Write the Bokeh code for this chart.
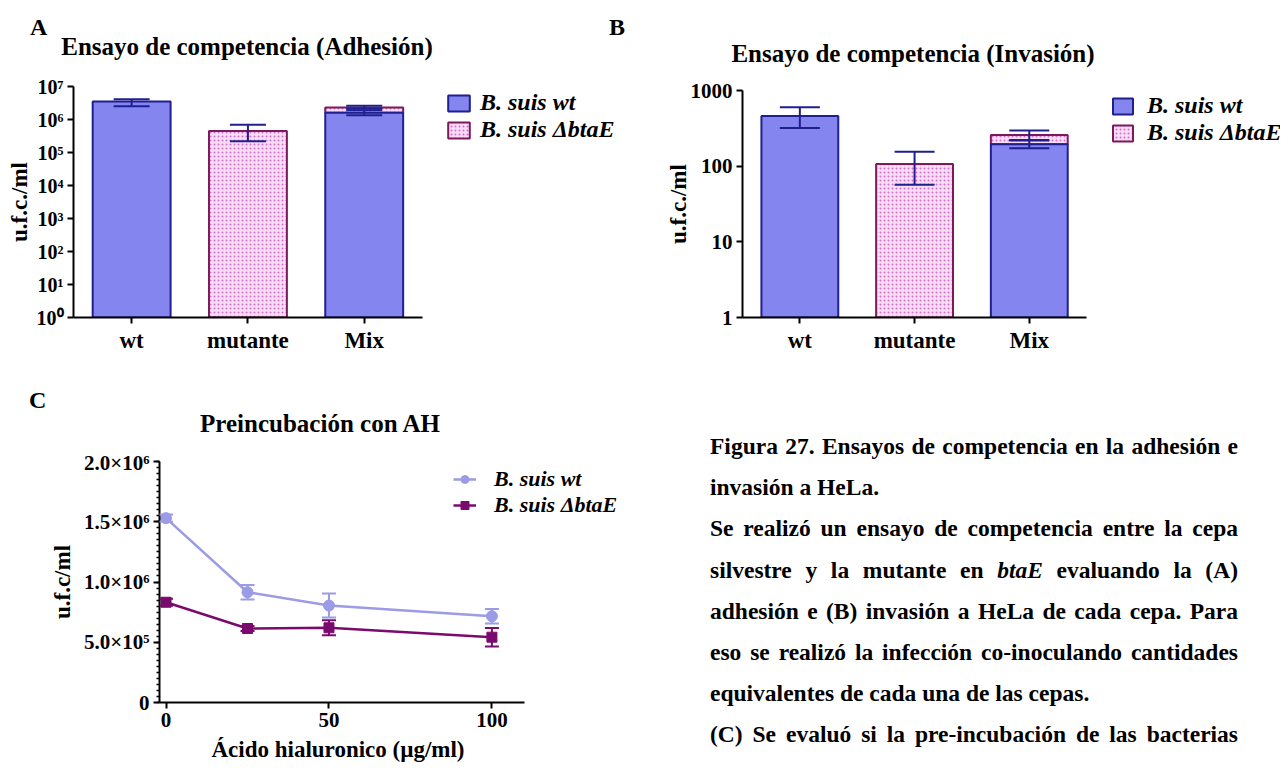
from bokeh.plotting import figure
from bokeh.models import (ColumnDataSource, Whisker, TeeHead, Legend, LegendItem,
                          FixedTicker, Range1d, Div)
from bokeh.layouts import row, column
from bokeh.embed import file_html
from bokeh.resources import INLINE

SERIF = "Liberation Serif"

# ---------------- data ----------------
strains = ["wt", "mutante", "Mix"]
series_labels = ["B. suis wt", "B. suis ΔbtaE"]

# Panel A: adhesion (u.f.c./ml)
adh_wt_cats = ["wt", "Mix"]
adh_wt_mean = [3.5e6, 1.6e6]
adh_wt_low = [2.5e6, 1.35e6]
adh_wt_high = [4.1e6, 1.9e6]
adh_mut_cats = ["mutante", "Mix"]
adh_mut_mean = [4.5e5, 0.7e6]
adh_mut_low = [2.2e5, 2.1e6]
adh_mut_high = [6.9e5, 2.6e6]
adh_ticks = [1, 10, 100, 1e3, 1e4, 1e5, 1e6, 1e7]
adh_tick_labels = ["10⁰", "10¹", "10²", "10³", "10⁴", "10⁵", "10⁶", "10⁷"]

# Panel B: invasion (u.f.c./ml)
inv_wt_cats = ["wt", "Mix"]
inv_wt_mean = [460, 195]
inv_wt_low = [320, 172]
inv_wt_high = [600, 218]
inv_mut_cats = ["mutante", "Mix"]
inv_mut_mean = [106, 63]
inv_mut_low = [57, 222]
inv_mut_high = [155, 296]
inv_ticks = [1, 10, 100, 1000]
inv_tick_labels = ["1", "10", "100", "1000"]

# Panel C: pre-incubation with hyaluronic acid
ah_conc = [0, 25, 50, 100]
ah_wt = [1.53e6, 0.915e6, 0.805e6, 0.716e6]
ah_wt_sem = [0.03e6, 0.06e6, 0.10e6, 0.06e6]
ah_mut = [0.832e6, 0.614e6, 0.620e6, 0.542e6]
ah_mut_sem = [0.03e6, 0.02e6, 0.062e6, 0.077e6]
ah_xticks = [0, 50, 100]
ah_yticks = [0, 5e5, 1e6, 1.5e6, 2e6]
ah_ytick_labels = ["0", "5.0×10⁵", "1.0×10⁶", "1.5×10⁶", "2.0×10⁶"]

titles = ["Ensayo de competencia (Adhesión)", "Ensayo de competencia (Invasión)",
          "Preincubación con AH"]
panel_letters = ["A", "B", "C"]
ah_xlabel = "Ácido hialuronico (µg/ml)"
caption_lines = [
    "Figura 27. Ensayos de competencia en la adhesión e",
    "invasión a HeLa.",
    "Se realizó un ensayo de competencia entre la cepa",
    "silvestre y la mutante en <i>btaE</i> evaluando la (A)",
    "adhesión e (B) invasión a HeLa de cada cepa. Para",
    "eso se realizó la infección co-inoculando cantidades",
    "equivalentes de cada una de las cepas.",
    "(C) Se evaluó si la pre-incubación de las bacterias",
]
caption_justified = [True, False, True, True, True, True, False, True]

# ---------------- style ----------------
BLUE_FILL = "#8585f0"
NAVY = "#1f1f8f"
PINK_FILL = "#f9dcf6"
PINK_HATCH = "#d070c8"
MAROON = "#7d1a5c"
WT_LINE = "#9b9be6"
MUT_LINE = "#7b0a6e"


def style_axes(p, tick_size):
    p.grid.visible = False
    p.outline_line_color = None
    for ax in p.axis:
        ax.axis_line_width = 2
        ax.axis_line_color = "black"
        ax.major_tick_line_width = 2
        ax.major_tick_line_color = "black"
        ax.major_tick_out = 6
        ax.major_tick_in = 0
        ax.minor_tick_line_color = None
        ax.major_label_text_font = SERIF
        ax.major_label_text_font_style = "bold"
        ax.major_label_text_color = "black"
        ax.major_label_text_font_size = tick_size
        ax.major_label_standoff = 4
        ax.axis_label_text_font = SERIF
        ax.axis_label_text_font_style = "bold"
        ax.axis_label_text_font_size = "23px"
        ax.axis_label_text_color = "black"


def header_div(width, height, letters, title, title_center, title_base):
    tt = title_base - 20.9
    inner = ""
    for letter, left, base in letters:
        inner += (f'<div style="position:absolute;left:{left}px;top:{base - 20.1:.1f}px;'
                  f'font-size:24px;line-height:24px;white-space:nowrap;">{letter}</div>')
    inner += (f'<div style="position:absolute;left:{title_center - 250}px;top:{tt:.1f}px;width:500px;'
              f'text-align:center;font-size:25px;line-height:25px;white-space:nowrap;">{title}</div>')
    html = (f'<div style="position:relative;width:{width}px;height:{height}px;'
            f'font-family:\'Liberation Serif\',serif;font-weight:bold;color:black;">{inner}</div>')
    return Div(text=html, width=width, height=height, margin=(0, 0, 0, 0))


def add_legend(p, items, vx, vy, gw, gh, standoff, size, lh):
    lg = Legend(items=[LegendItem(label=l, renderers=r) for l, r in items], location=(vx, vy),
                glyph_width=gw, glyph_height=gh, label_standoff=standoff, padding=0, margin=0,
                spacing=0, border_line_color=None, background_fill_alpha=0,
                label_text_font=SERIF, label_text_font_style="bold italic",
                label_text_font_size=size, label_height=lh, label_text_color="black")
    p.add_layout(lg)


def bar_panel(width, height, borders, x_end, y_end, wt_cats, wt_mean, wt_low, wt_high,
              mut_cats, mut_mean, mut_low, mut_high, ticks, tick_labels, ytick_size, cap,
              label_standoff):
    left, right, top, bottom = borders
    p = figure(width=width, height=height, x_range=Range1d(-0.5, x_end),
               y_range=Range1d(1, y_end), y_axis_type="log", output_backend="svg",
               toolbar_location=None, min_border_left=left, min_border_right=right,
               min_border_top=top, min_border_bottom=bottom)
    pos = {s: i for i, s in enumerate(strains)}
    wt_x = [pos[c] for c in wt_cats]
    mut_x = [pos[c] for c in mut_cats]
    wt_lookup = dict(zip(wt_cats, wt_mean))
    mut_bottom = [wt_lookup.get(c, 1) for c in mut_cats]
    mut_top = [b + m for b, m in zip(mut_bottom, mut_mean)]
    r_mut = p.vbar(x=mut_x, bottom=mut_bottom, top=mut_top, width=0.67,
                   fill_color=PINK_FILL, line_color=MAROON, line_width=2,
                   hatch_pattern="dot", hatch_color=PINK_HATCH, hatch_scale=4, hatch_weight=1.3)
    r_wt = p.vbar(x=wt_x, bottom=1, top=wt_mean, width=0.67,
                  fill_color=BLUE_FILL, line_color=NAVY, line_width=2)
    for xs, lo, hi in ((mut_x, mut_low, mut_high), (wt_x, wt_low, wt_high)):
        src = ColumnDataSource(dict(base=xs, lower=lo, upper=hi))
        p.add_layout(Whisker(source=src, base="base", lower="lower", upper="upper",
                             dimension="height", line_color=NAVY, line_width=2, level="annotation",
                             upper_head=TeeHead(size=cap, line_color=NAVY, line_width=2),
                             lower_head=TeeHead(size=cap, line_color=NAVY, line_width=2)))
    style_axes(p, ytick_size)
    p.xaxis.bounds = (-0.5, len(strains) - 0.5)
    p.xaxis.ticker = FixedTicker(ticks=list(range(len(strains))))
    p.xaxis.major_label_overrides = {i: s for i, s in enumerate(strains)}
    p.xaxis.major_label_text_font_size = "23px"
    p.yaxis.ticker = FixedTicker(ticks=ticks)
    p.yaxis.major_label_overrides = dict(zip(ticks, tick_labels))
    p.yaxis.axis_label = "u.f.c./ml"
    p.yaxis.axis_label_standoff = label_standoff
    return p, r_wt, r_mut


# ---------------- Panel A ----------------
pA, rA_wt, rA_mut = bar_panel(630, 290, (73, 0, 16, 43), 4.29, 1e7,
                              adh_wt_cats, adh_wt_mean, adh_wt_low, adh_wt_high,
                              adh_mut_cats, adh_mut_mean, adh_mut_low, adh_mut_high,
                              adh_ticks, adh_tick_labels, "20px", 36, 2)
add_legend(pA, [(series_labels[0], [rA_wt]), (series_labels[1], [rA_mut])],
           372, 174, 27, 20, 8, "24px", 26)
hA = header_div(630, 70, [(panel_letters[0], 30, 35), (panel_letters[1], 609, 35)],
                titles[0], 247, 55)

# ---------------- Panel B ----------------
pB, rB_wt, rB_mut = bar_panel(650, 290, (112, 0, 20, 43), 4.19, 1000,
                              inv_wt_cats, inv_wt_mean, inv_wt_low, inv_wt_high,
                              inv_mut_cats, inv_mut_mean, inv_mut_low, inv_mut_high,
                              inv_ticks, inv_tick_labels, "21px", 40, -3)
add_legend(pB, [(series_labels[0], [rB_wt]), (series_labels[1], [rB_mut])],
           368, 171, 25, 20, 12, "24px", 26)
hB = header_div(650, 70, [], titles[1], 283, 62)

# ---------------- Panel C ----------------
pC = figure(width=700, height=318, x_range=Range1d(-2, 164), y_range=Range1d(0, 2e6),
            output_backend="svg", toolbar_location=None,
            min_border_left=159, min_border_right=0, min_border_top=11, min_border_bottom=66)
style_axes(pC, "21px")
pC.xaxis.bounds = (-2, 110)
pC.xaxis.ticker = FixedTicker(ticks=ah_xticks)
pC.yaxis.ticker = FixedTicker(ticks=ah_yticks, minor_ticks=[i * 5e4 for i in range(41)])
pC.yaxis.major_label_overrides = dict(zip(ah_yticks, ah_ytick_labels))
pC.yaxis.minor_tick_line_color = "black"
pC.yaxis.minor_tick_line_width = 1.5
pC.yaxis.minor_tick_out = 3
pC.yaxis.minor_tick_in = 0
pC.yaxis.axis_label = "u.f.c/ml"
pC.yaxis.axis_label_standoff = 6
# the label is centred on the whole (legend-wide) frame: pad it on the right so that
# the visible words sit centred under the drawn axis
pC.xaxis.axis_label = ah_xlabel + "\u00a0" * 32
pC.xaxis.axis_label_standoff = 7

series_c = [(ah_wt, ah_wt_sem, WT_LINE, "circle", 11), (ah_mut, ah_mut_sem, MUT_LINE, "square", 10)]
c_renderers = []
for ys, sem, col, marker, size in series_c:
    src = ColumnDataSource(dict(x=ah_conc, y=ys,
                                lower=[y - s for y, s in zip(ys, sem)],
                                upper=[y + s for y, s in zip(ys, sem)]))
    rl = pC.line("x", "y", source=src, line_color=col, line_width=2.5)
    rs = pC.scatter("x", "y", source=src, marker=marker, size=size, fill_color=col, line_color=col)
    pC.add_layout(Whisker(source=src, base="x", lower="lower", upper="upper", dimension="height",
                          line_color=col, line_width=2, level="annotation",
                          upper_head=TeeHead(size=14, line_color=col, line_width=2),
                          lower_head=TeeHead(size=14, line_color=col, line_width=2)))
    c_renderers.append([rl, rs])

add_legend(pC, [(series_labels[0], c_renderers[0]), (series_labels[1], c_renderers[1])],
           294, 184, 23, 20, 18, "22px", 20)
hC = header_div(700, 90, [(panel_letters[2], 29, 48)], titles[2], 320, 72)

# ---------------- caption ----------------
parts = []
for line, just in zip(caption_lines, caption_justified):
    al = "justify" if just else "left"
    parts.append(f'<div style="text-align:{al};text-align-last:{al};">{line}</div>')
caption_html = ('<div style="font-family:\'Liberation Serif\',serif;font-weight:bold;'
                'font-size:23.5px;line-height:41.2px;color:black;width:528px;'
                'margin-left:10px;padding-top:66px;">' + "".join(parts) + '</div>')
caption = Div(text=caption_html, width=580, height=408, margin=(0, 0, 0, 0))

layout = column(row(column(hA, pA), column(hB, pB)), row(column(hC, pC), caption))
open("out.html", "w").write(file_html(layout, INLINE))
